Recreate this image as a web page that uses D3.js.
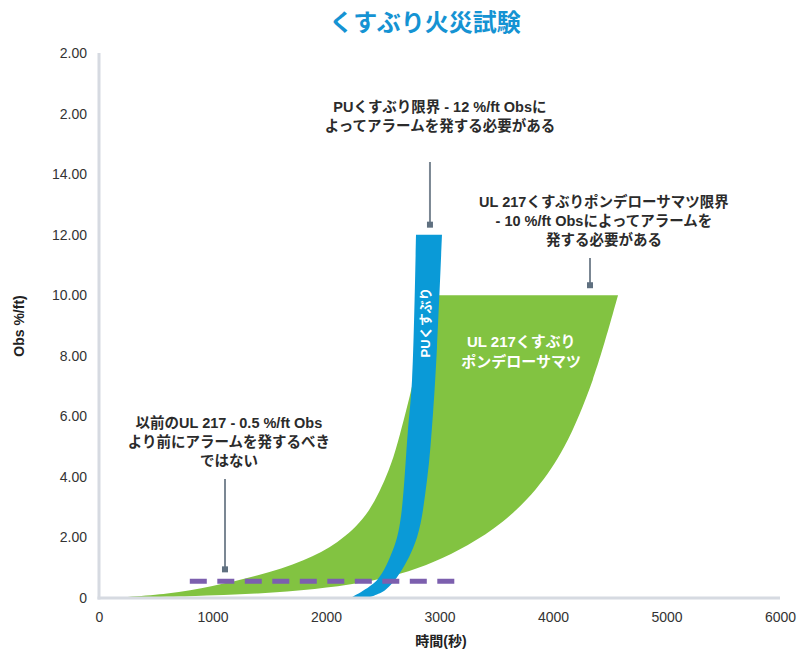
<!DOCTYPE html>
<html><head><meta charset="utf-8">
<script src="https://cdn.jsdelivr.net/npm/d3@7/dist/d3.min.js"></script>
<style>
body{margin:0;background:#fff;}
text{font-family:"Liberation Sans",Arial,"Noto Sans CJK JP",sans-serif;}
</style></head><body>
<svg id="c" width="806" height="655"></svg>
<script>
// ---- data ----
const xTickValues = [0,1000,2000,3000,4000,5000,6000];
const yTickValues = [0,2,4,6,8,10,12,14,16,18];
const yTickLabels = ["0","2.00","4.00","6.00","8.00","10.00","12.00","14.00","2.00","2.00"];

// UL 217 smoldering ponderosa pine band (green): upper/left edge and lower/right edge
const ulUpperX = [100, 600, 1000, 1400, 1800, 2100, 2350, 2550, 2700, 2830, 2930];
const ulUpperY = [0, 0.15, 0.40, 0.75, 1.25, 1.85, 2.75, 4.2, 6.1, 8.2, 10];
const ulLowerX = [100, 800, 1400, 1900, 2300, 2650, 2950, 3250, 3550, 3850, 4100, 4350, 4573];
const ulLowerY = [0, 0.06, 0.15, 0.30, 0.50, 0.80, 1.2, 1.75, 2.5, 3.6, 5.0, 7.2, 10];

// PU smoldering band (blue): left edge and right edge
const puLeftX = [2211, 2449, 2590, 2652, 2722, 2758, 2793];
const puLeftY = [0, 0.59, 1.59, 2.48, 5.55, 7.2, 12];
const puRightX = [2361, 2520, 2652, 2802, 2890, 2943, 2978, 3022];
const puRightY = [0, 0.26, 0.83, 2.01, 3.90, 6.11, 8.29, 12];

// previous UL 217 limit (dashed)
const oldLimitX = [800, 3140];
const oldLimitY = [0.55, 0.55];

const title = "くすぶり火災試験";
const xTitle = "時間(秒)";
const yTitle = "Obs %/ft)";
const puLabel = "PUくすぶり";
const ulLabel = ["UL 217くすぶり", "ポンデローサマツ"];
const note1 = ["PUくすぶり限界 - 12 %/ft Obsに", "よってアラームを発する必要がある"];
const note2 = ["UL 217くすぶりポンデローサマツ限界", "- 10 %/ft Obsによってアラームを", "発する必要がある"];
const note3 = ["以前のUL 217 - 0.5 %/ft Obs", "より前にアラームを発するべき", "ではない"];

// ---- drawing ----
const svg = d3.select("#c");
const x = d3.scaleLinear().domain([0,6000]).range([99,780]);
const y = d3.scaleLinear().domain([0,18]).range([598,53]);

const green = "#82c341", blue = "#0a9ad7", purple = "#7c5fae", grey = "#7b8793";
const line = d3.line().x(d=>x(d[0])).y(d=>y(d[1])).curve(d3.curveCatmullRom.alpha(0.5));
const zip = (a,b)=>a.map((v,i)=>[v,b[i]]);
function band(e1, e2){
  const p1 = line(e1);
  const p2 = line(e2.slice().reverse());
  return p1 + "L" + p2.slice(1) + "Z";
}

// green band
svg.append("path").attr("d", band(zip(ulUpperX,ulUpperY), zip(ulLowerX,ulLowerY))).attr("fill", green);
// blue band
svg.append("path").attr("d", band(zip(puLeftX,puLeftY), zip(puRightX,puRightY))).attr("fill", blue);

// axes lines
svg.append("line").attr("x1",x(0)).attr("x2",x(0)).attr("y1",y(18)).attr("y2",y(0)+1.5)
  .attr("stroke","#d6dae1").attr("stroke-width",3);
svg.append("line").attr("x1",x(0)-1.5).attr("x2",x(6000)).attr("y1",y(0)).attr("y2",y(0))
  .attr("stroke","#d6dae1").attr("stroke-width",3);

// dashed old limit
svg.append("path").attr("d", d3.line().x(d=>x(d[0])).y(d=>y(d[1]))(zip(oldLimitX,oldLimitY)))
  .attr("stroke", purple).attr("stroke-width",5).attr("stroke-dasharray","17,10.5").attr("fill","none");

// axes ticks
const yAxis = d3.axisLeft(y).tickValues(yTickValues).tickFormat((d,i)=>yTickLabels[i]).tickSize(0).tickPadding(12);
const gy = svg.append("g").attr("transform",`translate(${x(0)},0)`).call(yAxis);
gy.select(".domain").remove();
gy.selectAll("text").attr("font-size",14).attr("fill","#333").style("font-family","'Liberation Sans',Arial,sans-serif");
const xAxis = d3.axisBottom(x).tickValues(xTickValues).tickFormat(d3.format("d")).tickSize(0).tickPadding(14);
const gx = svg.append("g").attr("transform",`translate(0,${y(0)})`).call(xAxis);
gx.select(".domain").remove();
gx.selectAll("text").attr("font-size",14).attr("fill","#333").style("font-family","'Liberation Sans',Arial,sans-serif");

// titles
svg.append("text").attr("x",425).attr("y",31).attr("text-anchor","middle")
  .attr("font-size",24).attr("font-weight","bold").attr("fill","#1593d3").text(title);
svg.append("text").attr("x",441).attr("y",646).attr("text-anchor","middle")
  .attr("font-size",14).attr("font-weight","bold").attr("fill","#222").text(xTitle);
svg.append("text").attr("transform","translate(24,326) rotate(-90)").attr("text-anchor","middle")
  .attr("font-size",14).attr("font-weight","bold").attr("fill","#222").text(yTitle);

// labels inside bands
svg.append("text").attr("transform",`translate(${x(2870)+5},${y(9.1)}) rotate(-90)`).attr("text-anchor","middle")
  .attr("font-size",13).attr("font-weight","bold").attr("fill","#fff").text(puLabel);
ulLabel.forEach((t,i)=>svg.append("text").attr("x",x(3720)).attr("y",y(8.3)+i*20)
  .attr("text-anchor","middle").attr("font-size",15).attr("font-weight","bold").attr("fill","#fff").text(t));

// annotations
function note(lines, tx, tyPx, lx, ly1Px, ly2Px){
  lines.forEach((t,i)=>svg.append("text").attr("x",x(tx)).attr("y",tyPx+i*19)
    .attr("text-anchor","middle").attr("font-size",14.5).attr("font-weight","bold").attr("fill","#2b2b2b").text(t));
  svg.append("line").attr("x1",x(lx)).attr("x2",x(lx)).attr("y1",ly1Px).attr("y2",ly2Px)
    .attr("stroke",grey).attr("stroke-width",2);
  svg.append("rect").attr("x",x(lx)-3).attr("y",ly2Px-1).attr("width",6).attr("height",6).attr("fill","#5f7080");
}
note(note1, 3004, 112, 2916, 162, y(12)-12);
note(note2, 4449, 207, 4326, 258, y(10)-12);
note(note3, 1145, 428, 1110, 479, y(0.55)-14);
</script>
</body></html>
